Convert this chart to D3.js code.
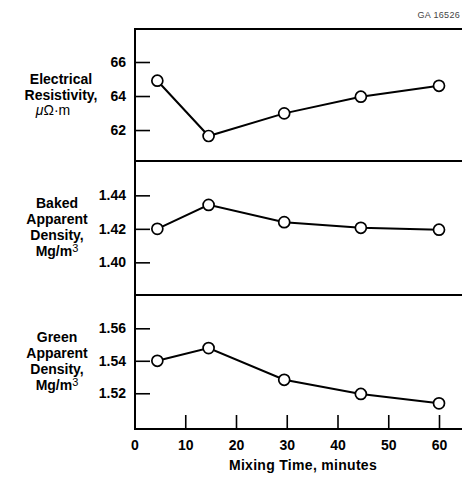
<!DOCTYPE html>
<html>
<head>
<meta charset="utf-8">
<script src="https://cdn.jsdelivr.net/npm/d3@7"></script>
<style>
  body { margin: 0; background: #fff; }
  svg text { font-family: "Liberation Sans", Arial, Helvetica, sans-serif; }
</style>
</head>
<body>
<div id="chart"></div>
<script>
// values
const minutes = [4.5, 14.6, 29.5, 44.6, 60];
const resistivity = [64.9, 61.65, 62.98, 63.96, 64.6];
const bakedDensity = [1.420, 1.4343, 1.424, 1.4206, 1.4195];
const greenDensity = [1.540, 1.5478, 1.5283, 1.5196, 1.5138];

const xTicks = [0, 10, 20, 30, 40, 50, 60];
const resTicks = [62, 64, 66];
const bakedTicks = [1.40, 1.42, 1.44];
const greenTicks = [1.52, 1.54, 1.56];

const W = 462, H = 477;
const left = 135, right = 462;

const svg = d3.select("#chart")
  .append("svg")
  .attr("width", W)
  .attr("height", H);

const x = d3.scaleLinear().domain([0, 60]).range([134.5, 439]);

// three stacked panels
const panels = [
  {values: resistivity, ticks: resTicks, fmt: d3.format("d"),
   top: 29, bottom: 161, domain: [60.18, 67.94],
   label: [["Electrical", 84], ["Resistivity,", 100]], unit: "res", cx: 61},
  {values: bakedDensity, ticks: bakedTicks, fmt: d3.format(".2f"),
   top: 161, bottom: 295, domain: [1.3805, 1.4605],
   label: [["Baked", 208], ["Apparent", 224], ["Density,", 240]], unitY: 256, cx: 57},
  {values: greenDensity, ticks: greenTicks, fmt: d3.format(".2f"),
   top: 295, bottom: 429, domain: [1.498, 1.5805],
   label: [["Green", 342], ["Apparent", 358], ["Density,", 374]], unitY: 390, cx: 57}
];

panels.forEach(p => {
  const y = d3.scaleLinear().domain(p.domain).range([p.bottom, p.top]);

  const ax = svg.append("g")
    .attr("transform", `translate(${left},0)`)
    .call(d3.axisLeft(y).tickValues(p.ticks).tickFormat(p.fmt).tickSize(-15).tickPadding(9));
  ax.select(".domain").remove();
  ax.selectAll("line").attr("stroke", "#000").attr("stroke-width", 1.6);
  ax.selectAll("text")
    .attr("font-size", 14).attr("font-weight", "bold").attr("fill", "#000");

  // panel label
  p.label.forEach(([t, yy]) => {
    svg.append("text").attr("x", p.cx).attr("y", yy)
      .attr("text-anchor", "middle").attr("font-size", 14).attr("font-weight", "bold")
      .text(t);
  });
  if (p.unit === "res") {
    const u = svg.append("text").attr("x", 53).attr("y", 115)
      .attr("text-anchor", "middle").attr("font-size", 14);
    u.append("tspan").attr("font-style", "italic").text("μ");
    u.append("tspan").text("Ω·m");
  } else {
    const u = svg.append("text").attr("x", p.cx).attr("y", p.unitY)
      .attr("text-anchor", "middle").attr("font-size", 14).attr("font-weight", "bold");
    u.append("tspan").text("Mg/m");
    u.append("tspan").attr("dy", -4).attr("font-size", 11).attr("font-weight", "normal").text("3");
  }

  const pts = minutes.map((m, i) => [m, p.values[i]]);
  svg.append("path")
    .datum(pts)
    .attr("fill", "none")
    .attr("stroke", "#000")
    .attr("stroke-width", 2)
    .attr("d", d3.line().x(d => x(d[0])).y(d => y(d[1])));

  svg.selectAll(null)
    .data(pts)
    .join("circle")
    .attr("cx", d => x(d[0]))
    .attr("cy", d => y(d[1]))
    .attr("r", 5.5)
    .attr("fill", "#fff")
    .attr("stroke", "#000")
    .attr("stroke-width", 1.7);
});

// frame: left spine and horizontal dividers
svg.append("line")
  .attr("x1", left).attr("x2", left).attr("y1", 28).attr("y2", 430)
  .attr("stroke", "#000").attr("stroke-width", 2);
[29, 161, 295, 429].forEach(yy => {
  svg.append("line")
    .attr("x1", left).attr("x2", right).attr("y1", yy).attr("y2", yy)
    .attr("stroke", "#000").attr("stroke-width", 2);
});

// bottom x axis
const xa = svg.append("g")
  .attr("transform", "translate(0,429)")
  .call(d3.axisBottom(x).tickValues(xTicks).tickFormat(d3.format("d")).tickSize(-14).tickPadding(11));
xa.select(".domain").remove();
xa.selectAll("line").attr("stroke", "#000").attr("stroke-width", 1.6);
xa.selectAll(".tick").filter(d => d === 0).select("line").remove();
xa.selectAll("text").attr("font-size", 14).attr("font-weight", "bold").attr("fill", "#000");

svg.append("text")
  .attr("x", 303).attr("y", 470)
  .attr("text-anchor", "middle")
  .attr("font-size", 14).attr("font-weight", "bold")
  .attr("letter-spacing", 0.3)
  .text("Mixing Time, minutes");

svg.append("text")
  .attr("x", 460).attr("y", 18)
  .attr("text-anchor", "end")
  .attr("font-size", 9).attr("fill", "#444")
  .attr("letter-spacing", 0.3)
  .text("GA 16526");
</script>
</body>
</html>
